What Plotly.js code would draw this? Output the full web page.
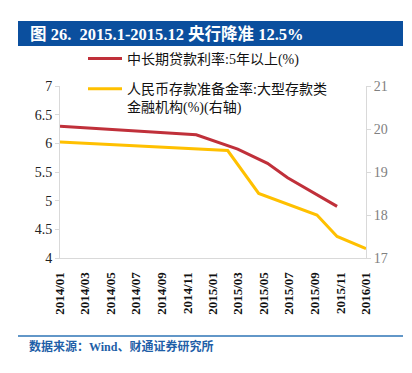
<!DOCTYPE html>
<html>
<head>
<meta charset="utf-8">
<script src="https://cdn.plot.ly/plotly-3.0.1.min.js"></script>
<style>html,body{margin:0;padding:0;background:#fff;}#chart{width:412px;height:373px;}</style>
</head>
<body>
<div id="chart"></div>
<script>
// Data
const loanDates = ["2014-01-01", "2014-11-22", "2015-03-01", "2015-05-11", "2015-06-28", "2015-10-24"];
const loanRate = [6.30, 6.15, 5.90, 5.65, 5.40, 4.90];
const rrrDates = ["2014-01-01", "2015-02-05", "2015-04-20", "2015-09-06", "2015-10-24", "2016-01-01"];
const rrrRate = [19.70, 19.50, 18.50, 18.00, 17.50, 17.22];
const loanName = "中长期贷款利率:5年以上(%)";
const rrrName = "人民币存款准备金率:大型存款类<br>金融机构(%)(右轴)";
const titleText = "图 26.  2015.1-2015.12 央行降准 12.5%";
const sourceText = "数据来源：Wind、财通证券研究所";

const serif = "Liberation Serif, 'Noto Sans CJK SC', serif";
const L = 60, R = 366, T = 86, B = 258, W = 412, H = 373;
const px = x => (x - L) / (R - L);
const py = y => (B - y) / (B - T);

const traces = [
  {x: loanDates, y: loanRate, name: loanName, type: "scatter", mode: "lines",
   line: {color: "#c0303a", width: 3}, yaxis: "y", legendgroup: "a"},
  {x: rrrDates, y: rrrRate, name: rrrName, type: "scatter", mode: "lines",
   line: {color: "#ffc000", width: 3}, yaxis: "y2", legendgroup: "b"}
];

const layout = {
  width: W, height: H,
  margin: {l: L, r: W - R, t: T, b: H - B, pad: 0},
  paper_bgcolor: "#fff", plot_bgcolor: "#fff",
  font: {family: serif, color: "#222"},
  showlegend: true,
  legend: {x: px(83), y: py(43), xanchor: "left", yanchor: "top", valign: "top",
    bgcolor: "rgba(0,0,0,0)", font: {size: 14, color: "#111", family: serif},
    traceorder: "grouped", tracegroupgap: 9, itemwidth: 34},
  xaxis: {type: "date", range: ["2014-01-01", "2016-01-01"],
    tickmode: "linear", tick0: "2014-01-01", dtick: "M2", tickformat: "%Y/%m",
    tickangle: -90, ticklabelstandoff: 8,
    tickfont: {size: 13, color: "#111", family: "Liberation Serif", weight: "bold"},
    showgrid: false, showline: true, linecolor: "#d9d9d9", linewidth: 1,
    ticks: "", zeroline: false},
  yaxis: {range: [4, 7], dtick: 0.5, showgrid: false, showline: true, linecolor: "#d9d9d9",
    ticks: "outside", ticklen: 4, tickcolor: "#d9d9d9",
    tickfont: {size: 14, color: "#222", family: "Liberation Serif"}, zeroline: false},
  yaxis2: {range: [17, 21], dtick: 1, overlaying: "y", side: "right", showgrid: false,
    showline: true, linecolor: "#d9d9d9", ticks: "outside", ticklen: 4, tickcolor: "#d9d9d9",
    tickfont: {size: 14, color: "#808080", family: "Liberation Serif"}, zeroline: false},
  shapes: [
    {type: "rect", xref: "paper", yref: "paper", x0: px(18), x1: px(403), y0: py(46), y1: py(21),
     fillcolor: "#0b4f9e", line: {width: 0}, layer: "below"},
    {type: "line", xref: "paper", yref: "paper", x0: px(18), x1: px(403), y0: py(336), y1: py(336),
     line: {color: "#2e75b6", width: 1.5}}
  ],
  annotations: [
    {xref: "paper", yref: "paper", x: px(28), y: py(34), xanchor: "left", yanchor: "middle",
     text: "<b>" + titleText + "</b>", showarrow: false,
     font: {size: 16.5, color: "#fff", family: serif}},
    {xref: "paper", yref: "paper", x: px(27), y: py(346), xanchor: "left", yanchor: "middle",
     text: "<b>" + sourceText + "</b>", showarrow: false,
     font: {size: 12, color: "#1f5fa8", family: serif}}
  ]
};

Plotly.newPlot("chart", traces, layout, {displayModeBar: false, staticPlot: true});
</script>
</body>
</html>
